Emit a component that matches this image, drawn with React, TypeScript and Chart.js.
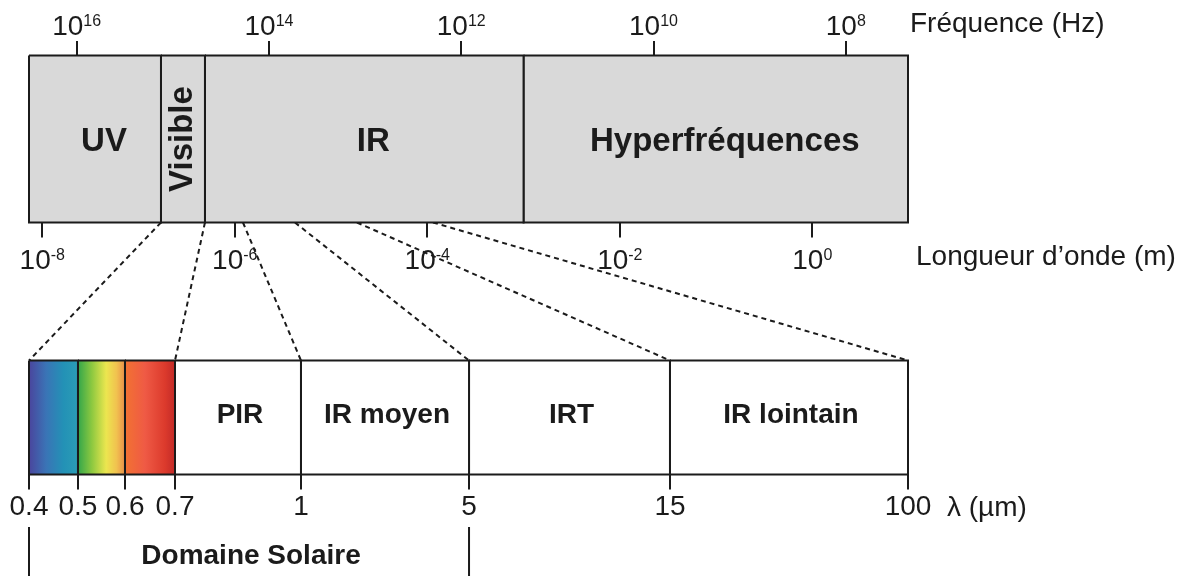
import React, { useEffect, useRef } from 'react';
import { Chart, registerables } from 'chart.js';

Chart.register(...registerables);

// ---------------- DATA ----------------
// Top spectrum bands, edges in log10(wavelength / m)
const topBandNames = ['UV', 'Visible', 'IR', 'Hyperfréquences'];
const topBandEdges = [-8.138, -6.767, -6.31, -3.0, 0.994];
// Wavelength ticks (exponent of 10, metres) and frequency ticks (exponent of 10, Hz)
const wavelengthTickExps = [-8, -6, -4, -2, 0];
const frequencyTickExps = [16, 14, 12, 10, 8];
const frequencyAxisRange = [7.353, 16.496];
// Zoomed (lower) band: wavelength labels in µm and their schematic slot along the band
const lowTickLabels = ['0.4', '0.5', '0.6', '0.7', '1', '5', '15', '100'];
const lowTickSlots = [0, 0.0557, 0.1092, 0.1661, 0.3094, 0.5006, 0.7292, 1];
const lowBandNames = ['', '', '', 'PIR', 'IR moyen', 'IRT', 'IR lointain'];
// Dashed connectors: origin on the top band (log10 λ) -> index of lower tick
const zoomOrigins = [-6.767, -6.31, -5.915, -5.375, -4.731, -3.941];
const zoomTargets = [0, 3, 4, 5, 6, 7];
// Solar domain bracket: from lower tick index to lower tick index
const solarDomain = [0, 5];

// ---------------- LAYOUT / STYLE ----------------
const FONT = "'Liberation Sans', Arial, Helvetica, sans-serif";
const INK = '#1b1b1b';
const GREY = '#d9d9d9';
const LAYOUT = {
  top0: 55.5,
  top1: 222.5,
  low0: 360.5,
  low1: 474.5,
  freqTickTop: 41,
  tickLen: 14.5,
  freqBase: 35,
  lambdaBase: 269,
  lowBase: 515,
  solarTop: 527,
  solarBottom: 576,
  solarBase: 564,
  padLeft: 29,
  padRight: 275,
  topLabelShift: 9,
};
const visibleStops: [number, string][][] = [
  [[0, '#4a459d'], [0.35, '#3a74b6'], [0.7, '#2391b6'], [1, '#2b9db5']],
  [[0, '#33a64a'], [0.3, '#8ec940'], [0.6, '#ece64f'], [0.82, '#f1c24f'], [1, '#e98f49']],
  [[0, '#f27232'], [0.4, '#ef5a45'], [0.8, '#dc3a2c'], [1, '#c22a28']],
];

const rect = (x0: number, x1: number, y0: number, y1: number) => [
  { x: x0, y: y0 },
  { x: x1, y: y0 },
  { x: x1, y: y1 },
  { x: x0, y: y1 },
  { x: x0, y: y0 },
];

const baseLine = {
  borderColor: INK,
  borderWidth: 2,
  pointRadius: 0,
  pointHoverRadius: 0,
  tension: 0,
  clip: false as any,
  borderJoinStyle: 'miter' as const,
};

function buildDatasets() {
  const ds: any[] = [];
  topBandNames.forEach((_, i) => {
    ds.push({
      ...baseLine,
      xAxisID: 'xLambda',
      yAxisID: 'y',
      data: rect(topBandEdges[i], topBandEdges[i + 1], LAYOUT.top0, LAYOUT.top1),
      fill: 'shape',
      backgroundColor: GREY,
    });
  });
  lowBandNames.forEach((_, i) => {
    const stops = visibleStops[i];
    ds.push({
      ...baseLine,
      xAxisID: 'xLow',
      yAxisID: 'y',
      data: rect(lowTickSlots[i], lowTickSlots[i + 1], LAYOUT.low0, LAYOUT.low1),
      fill: 'shape',
      backgroundColor: stops
        ? (c: any) => {
            const s = c.chart.scales.xLow;
            if (!s || !c.chart.chartArea) return '#ffffff';
            const g = c.chart.ctx.createLinearGradient(
              s.getPixelForValue(lowTickSlots[i]), 0,
              s.getPixelForValue(lowTickSlots[i + 1]), 0
            );
            stops.forEach(([o, col]) => g.addColorStop(o, col));
            return g;
          }
        : '#ffffff',
    });
  });
  solarDomain.forEach((idx) => {
    ds.push({
      ...baseLine,
      xAxisID: 'xLow',
      yAxisID: 'y',
      fill: false,
      data: [
        { x: lowTickSlots[idx], y: LAYOUT.solarTop },
        { x: lowTickSlots[idx], y: LAYOUT.solarBottom },
      ],
    });
  });
  return ds;
}

function drawPow(ctx: CanvasRenderingContext2D, cx: number, base: number, exp: number) {
  const main = `28px ${FONT}`;
  const sup = `16px ${FONT}`;
  const e = String(exp);
  ctx.font = main;
  const w1 = ctx.measureText('10').width;
  ctx.font = sup;
  const w2 = ctx.measureText(e).width;
  const x0 = cx - (w1 + w2) / 2;
  ctx.textAlign = 'left';
  ctx.textBaseline = 'alphabetic';
  ctx.font = main;
  ctx.fillText('10', x0, base);
  ctx.font = sup;
  ctx.fillText(e, x0 + w1, base - 9.5);
}

const diagramPlugin = {
  id: 'spectrumDiagram',
  beforeDatasetsDraw(chart: any) {
    const ctx = chart.ctx as CanvasRenderingContext2D;
    const xl = chart.scales.xLambda;
    const xs = chart.scales.xLow;
    const y = chart.scales.y;
    ctx.save();
    ctx.strokeStyle = INK;
    ctx.lineWidth = 2;
    ctx.setLineDash([5, 4]);
    zoomOrigins.forEach((v, i) => {
      ctx.beginPath();
      ctx.moveTo(xl.getPixelForValue(v), y.getPixelForValue(LAYOUT.top1));
      ctx.lineTo(xs.getPixelForValue(lowTickSlots[zoomTargets[i]]), y.getPixelForValue(LAYOUT.low0));
      ctx.stroke();
    });
    ctx.restore();
  },
  afterDraw(chart: any) {
    const ctx = chart.ctx as CanvasRenderingContext2D;
    const xl = chart.scales.xLambda;
    const xf = chart.scales.xFreq;
    const xs = chart.scales.xLow;
    const y = chart.scales.y;
    ctx.save();
    ctx.fillStyle = INK;

    // frequency tick labels
    xf.ticks.forEach((t: any) => drawPow(ctx, xf.getPixelForValue(t.value), y.getPixelForValue(LAYOUT.freqBase), t.value));
    // wavelength tick labels
    xl.ticks.forEach((t: any) => drawPow(ctx, xl.getPixelForValue(t.value), y.getPixelForValue(LAYOUT.lambdaBase), t.value));

    // axis titles
    ctx.font = `28px ${FONT}`;
    ctx.textAlign = 'left';
    ctx.textBaseline = 'alphabetic';
    ctx.fillText('Fréquence (Hz)', xf.right + 2, y.getPixelForValue(32));
    ctx.fillText('Longueur d\u2019onde (m)', xl.right + 8, y.getPixelForValue(265));

    // top band names
    const topMid = (y.getPixelForValue(LAYOUT.top0) + y.getPixelForValue(LAYOUT.top1)) / 2;
    topBandNames.forEach((name, i) => {
      const cx = (xl.getPixelForValue(topBandEdges[i]) + xl.getPixelForValue(topBandEdges[i + 1])) / 2;
      ctx.font = `bold 33px ${FONT}`;
      ctx.textAlign = 'center';
      ctx.textBaseline = 'alphabetic';
      if (name === 'Visible') {
        ctx.save();
        ctx.translate(cx + 9, topMid);
        ctx.rotate(-Math.PI / 2);
        ctx.fillText(name, 0, 0);
        ctx.restore();
      } else {
        ctx.fillText(name, cx + LAYOUT.topLabelShift, topMid + 11.5);
      }
    });

    // lower band names
    const lowMid = 413;
    lowBandNames.forEach((name, i) => {
      if (!name) return;
      const cx = (xs.getPixelForValue(lowTickSlots[i]) + xs.getPixelForValue(lowTickSlots[i + 1])) / 2;
      ctx.font = `bold 28px ${FONT}`;
      ctx.textAlign = 'center';
      ctx.fillText(name, cx + 2, y.getPixelForValue(lowMid + 10));
    });

    // lower tick labels
    ctx.font = `28px ${FONT}`;
    ctx.textAlign = 'center';
    xs.ticks.forEach((t: any, i: number) => {
      ctx.fillText(lowTickLabels[i], xs.getPixelForValue(t.value), y.getPixelForValue(LAYOUT.lowBase));
    });
    ctx.textAlign = 'left';
    ctx.fillText('\u03bb (\u00b5m)', xs.getPixelForValue(lowTickSlots[lowTickSlots.length - 1]) + 39, y.getPixelForValue(LAYOUT.lowBase + 1));

    // solar domain
    ctx.font = `bold 28px ${FONT}`;
    ctx.textAlign = 'center';
    const sx = (xs.getPixelForValue(lowTickSlots[solarDomain[0]]) + xs.getPixelForValue(lowTickSlots[solarDomain[1]])) / 2;
    ctx.fillText('Domaine Solaire', sx + 2, y.getPixelForValue(LAYOUT.solarBase));

    ctx.restore();
  },
};

const tickAxis = (extra: any) => ({
  type: 'linear',
  axis: 'x',
  display: true,
  bounds: 'data',
  grid: {
    display: true,
    drawOnChartArea: false,
    drawTicks: true,
    tickLength: LAYOUT.tickLen,
    color: INK,
    lineWidth: 2,
  },
  border: { display: false },
  ticks: { display: false },
  ...extra,
});

export default function App() {
  const ref = useRef<HTMLCanvasElement>(null);
  useEffect(() => {
    const canvas = ref.current;
    if (!canvas) return;
    const chart = new Chart(canvas, {
      type: 'line',
      data: { datasets: buildDatasets() },
      options: {
        responsive: false,
        animation: false,
        devicePixelRatio: 1,
        events: [],
        layout: { padding: { left: LAYOUT.padLeft, right: LAYOUT.padRight, top: 0, bottom: 0 } },
        plugins: { legend: { display: false }, tooltip: { enabled: false } },
        scales: {
          y: { type: 'linear', display: false, min: 0, max: 576, reverse: true },
          xLambda: tickAxis({
            min: topBandEdges[0],
            max: topBandEdges[topBandEdges.length - 1],
            position: { y: LAYOUT.top1 },
            afterBuildTicks: (s: any) => {
              s.ticks = wavelengthTickExps.map((v) => ({ value: v }));
            },
          }),
          xFreq: tickAxis({
            min: frequencyAxisRange[0],
            max: frequencyAxisRange[1],
            reverse: true,
            position: { y: LAYOUT.freqTickTop },
            afterBuildTicks: (s: any) => {
              s.ticks = frequencyTickExps.map((v) => ({ value: v }));
            },
          }),
          xLow: tickAxis({
            min: lowTickSlots[0],
            max: lowTickSlots[lowTickSlots.length - 1],
            position: { y: LAYOUT.low1 },
            afterBuildTicks: (s: any) => {
              s.ticks = lowTickSlots.map((v) => ({ value: v }));
            },
          }),
        } as any,
      },
      plugins: [diagramPlugin],
    } as any);
    return () => chart.destroy();
  }, []);
  return (
    <div style={{ position: 'fixed', left: 0, top: 0, width: 1183, height: 576, background: '#ffffff' }}>
      <canvas ref={ref} width={1183} height={576} style={{ display: 'block', width: 1183, height: 576 }} />
    </div>
  );
}
